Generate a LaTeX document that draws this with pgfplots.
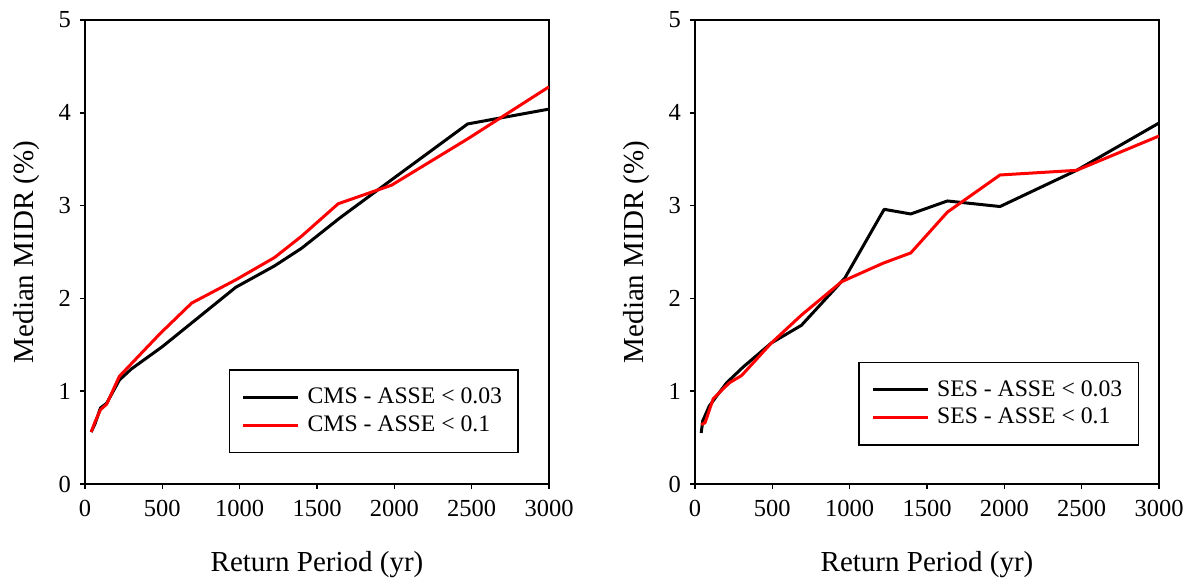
\documentclass[border=0pt]{standalone}
\usepackage{fontspec}
\setmainfont{Liberation Serif}
\usepackage{pgfplots}
\pgfplotsset{compat=1.18}
\begin{document}
\begin{tikzpicture}
\path[use as bounding box] (-42.5bp,-48.5bp) rectangle (553.5bp,242bp);
\pgfplotsset{
 myax/.style={
  scale only axis, width=232bp, height=232bp,
  xmin=0,xmax=3000,ymin=0,ymax=5,
  xtick={0,500,...,3000}, ytick={0,1,2,3,4,5},
  tick align=outside, xtick pos=left, ytick pos=left,
  major tick length=2.5bp,
  axis line style={line width=0.75bp},
  every tick/.style={line width=0.75bp, black},
  /pgf/number format/assume math mode=true,
  /pgf/number format/set thousands separator={},
  ticklabel style={font=\fontsize{12.25bp}{14bp}\selectfont},
  xticklabel style={yshift=-2bp},
  yticklabel style={xshift=-1bp},
  xlabel={Return Period (yr)}, ylabel={Median MIDR (\%)},
  xlabel style={font=\fontsize{14.5bp}{17bp}\selectfont, at={(axis description cs:0.5,-0.1746)}, anchor=center},
  ylabel style={font=\fontsize{14.5bp}{17bp}\selectfont, at={(axis description cs:-0.125,0.5)}, anchor=center},
  legend style={font=\fontsize{11.85bp}{14bp}\selectfont, draw=black, line width=0.75bp,
    inner xsep=6bp, inner ysep=7bp, row sep=0.5bp, anchor=south east},
  legend cell align=left,
  legend image code/.code={\draw[#1, line width=1.5bp] (0bp,0bp) -- (27.5bp,0bp); \path (29.5bp,0bp);},
 }
}
\begin{axis}[myax, at={(0bp,0bp)}, legend style={at={(0.935,0.066)}}]
\addplot[black, line width=1.5bp, line join=round] coordinates {
(40,0.56) (65,0.65) (100,0.82) (140,0.87) (222,1.12) (300,1.24) (500,1.48) (975,2.12) (1225,2.35) (1400,2.54) (1650,2.87) (2000,3.30) (2474,3.88) (3000,4.04)};
\addlegendentry{CMS - ASSE < 0.03}
\addplot[red, line width=1.5bp, line join=round] coordinates {
(40,0.56) (65,0.67) (100,0.80) (140,0.86) (222,1.16) (485,1.62) (690,1.95) (975,2.20) (1225,2.44) (1400,2.67) (1637,3.02) (1982,3.22) (2475,3.72) (3000,4.28)};
\addlegendentry{CMS - ASSE < 0.1}
\end{axis}
\begin{axis}[myax, at={(305bp,0bp)}, legend style={at={(0.957,0.0825)}}]
\addplot[black, line width=1.5bp, line join=round] coordinates {
(40,0.55) (50,0.68) (92,0.84) (204,1.09) (311,1.26) (494,1.52) (688,1.71) (969,2.22) (1223,2.96) (1395,2.91) (1632,3.05) (1972,2.99) (2467,3.38) (3000,3.89)};
\addlegendentry{SES - ASSE < 0.03}
\addplot[red, line width=1.5bp, line join=round] coordinates {
(40,0.64) (65,0.66) (118,0.92) (222,1.09) (302,1.17) (494,1.52) (688,1.82) (948,2.18) (1217,2.38) (1395,2.49) (1632,2.93) (1972,3.33) (2467,3.38) (3000,3.75)};
\addlegendentry{SES - ASSE < 0.1}
\end{axis}
\end{tikzpicture}
\end{document}
